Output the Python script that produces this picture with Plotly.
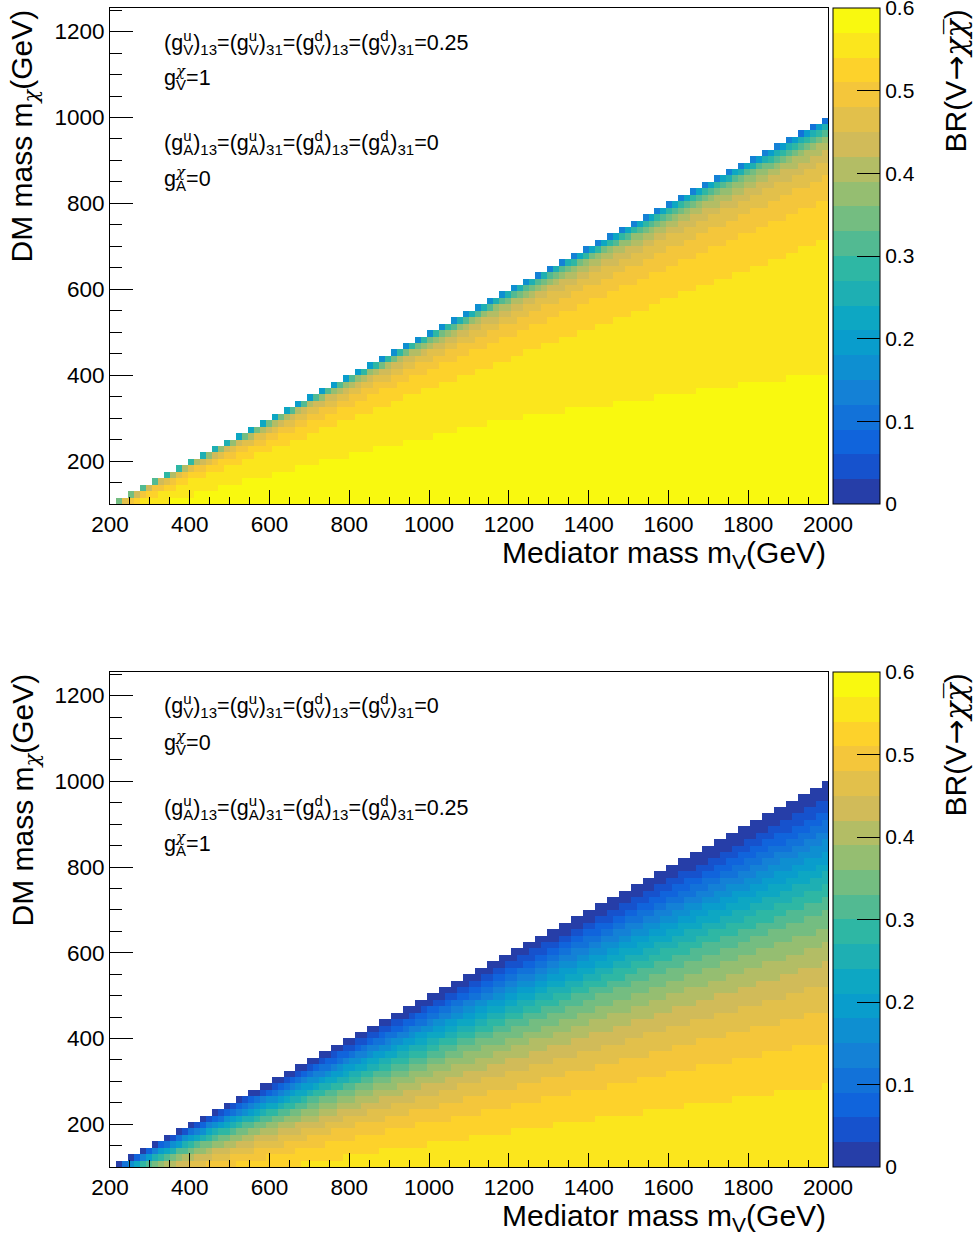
import numpy as np
import plotly.graph_objects as go

# ---------------- data ----------------
# BR(V -> chi chibar) read along a few mediator-mass columns, as a function of
# t = 2 m_chi / m_V (t = 1 is the kinematic limit)
mv_cols = [220, 350, 600, 1000, 1500, 2000]
t_grid = [0.0, 0.1, 0.2, 0.3, 0.4, 0.5, 0.6, 0.7, 0.75, 0.8, 0.85, 0.9,
          0.93, 0.95, 0.97, 0.98, 0.99, 0.995, 0.998, 1.0]

br_vector = [
    [0.5917, 0.5917, 0.5916, 0.5910, 0.5892, 0.5854, 0.5777, 0.5630, 0.5512, 0.5344, 0.5096, 0.4702, 0.4328, 0.3964, 0.3413, 0.2992, 0.2335, 0.1779, 0.1207, 0.0],
    [0.5855, 0.5855, 0.5853, 0.5847, 0.5830, 0.5791, 0.5714, 0.5567, 0.5448, 0.5280, 0.5032, 0.4638, 0.4265, 0.3903, 0.3300, 0.2850, 0.2200, 0.1650, 0.1100, 0.0],
    [0.5807, 0.5807, 0.5806, 0.5800, 0.5782, 0.5744, 0.5666, 0.5519, 0.5400, 0.5231, 0.4983, 0.4589, 0.4217, 0.3856, 0.3150, 0.2700, 0.2000, 0.1450, 0.0950, 0.0],
    [0.5774, 0.5774, 0.5772, 0.5766, 0.5749, 0.5710, 0.5633, 0.5485, 0.5366, 0.5197, 0.4949, 0.4555, 0.4184, 0.3824, 0.3100, 0.2650, 0.1950, 0.1400, 0.0920, 0.0],
    [0.5744, 0.5744, 0.5742, 0.5736, 0.5719, 0.5680, 0.5602, 0.5454, 0.5335, 0.5166, 0.4918, 0.4525, 0.4154, 0.3795, 0.3080, 0.2630, 0.1930, 0.1380, 0.0900, 0.0],
    [0.5727, 0.5727, 0.5726, 0.5720, 0.5702, 0.5664, 0.5586, 0.5438, 0.5318, 0.5150, 0.4901, 0.4508, 0.4138, 0.3779, 0.3070, 0.2620, 0.1920, 0.1370, 0.0900, 0.0],
]

br_axial = [
    [0.5917, 0.5881, 0.5769, 0.5571, 0.5274, 0.4849, 0.4260, 0.3455, 0.2955, 0.2384, 0.1748, 0.1072, 0.0671, 0.0423, 0.0204, 0.0113, 0.0041, 0.0014, 0.0004, 0.0],
    [0.5855, 0.5818, 0.5706, 0.5508, 0.5209, 0.4785, 0.4197, 0.3397, 0.2901, 0.2338, 0.1711, 0.1047, 0.0655, 0.0412, 0.0199, 0.0110, 0.0040, 0.0014, 0.0004, 0.0],
    [0.5807, 0.5770, 0.5657, 0.5459, 0.5160, 0.4736, 0.4149, 0.3353, 0.2861, 0.2303, 0.1684, 0.1029, 0.0644, 0.0405, 0.0195, 0.0108, 0.0039, 0.0014, 0.0004, 0.0],
    [0.5774, 0.5737, 0.5624, 0.5425, 0.5126, 0.4702, 0.4116, 0.3323, 0.2833, 0.2279, 0.1665, 0.1016, 0.0635, 0.0399, 0.0193, 0.0107, 0.0038, 0.0014, 0.0004, 0.0],
    [0.5744, 0.5707, 0.5594, 0.5395, 0.5096, 0.4671, 0.4086, 0.3295, 0.2809, 0.2257, 0.1648, 0.1005, 0.0628, 0.0395, 0.0190, 0.0105, 0.0038, 0.0013, 0.0003, 0.0],
    [0.5727, 0.5690, 0.5577, 0.5378, 0.5079, 0.4654, 0.4070, 0.3281, 0.2795, 0.2245, 0.1639, 0.0999, 0.0624, 0.0392, 0.0189, 0.0105, 0.0038, 0.0013, 0.0003, 0.0],
]

x_tick_vals = [200, 400, 600, 800, 1000, 1200, 1400, 1600, 1800, 2000]
y_tick_vals = [200, 400, 600, 800, 1000, 1200]
cbar_tick_vals = [0, 0.1, 0.2, 0.3, 0.4, 0.5, 0.6]
cbar_tick_text = ["0", "0.1", "0.2", "0.3", "0.4", "0.5", "0.6"]

# histogram binning
mv_lo, mv_hi, mv_bin = 200, 2000, 15
mchi_lo, mchi_hi, mchi_bin = 100, 1255, 15
z_lo, z_hi, n_levels = 0.0, 0.6, 20

# ---------------- build the 2D histograms ----------------
mv_centers = np.arange(mv_lo + mv_bin / 2, mv_hi, mv_bin)
mchi_centers = np.arange(mchi_lo + mchi_bin / 2, mchi_hi, mchi_bin)


def fill_hist(table):
    tab = np.array(table)
    z = np.full((len(mchi_centers), len(mv_centers)), np.nan)
    for i, mv in enumerate(mv_centers):
        col = np.array([np.interp(mv, mv_cols, tab[:, k]) for k in range(len(t_grid))])
        for j, mc in enumerate(mchi_centers):
            t = 2.0 * mc / mv
            if t < 1.0:
                z[j, i] = np.interp(t, t_grid, col)
    return z


z_vec = fill_hist(br_vector)
z_ax = fill_hist(br_axial)

# ---------------- ROOT kBird palette, 20 contour levels ----------------
stops = [0.0, 0.125, 0.25, 0.375, 0.5, 0.625, 0.75, 0.875, 1.0]
red = [0.2082, 0.0592, 0.0780, 0.0232, 0.1802, 0.5301, 0.8186, 0.9956, 0.9764]
green = [0.1664, 0.3599, 0.5041, 0.6419, 0.7178, 0.7492, 0.7328, 0.7862, 0.9832]
blue = [0.5293, 0.8684, 0.8385, 0.7914, 0.6425, 0.4662, 0.3499, 0.1968, 0.0539]
ncol = 255
palette = []
for g in range(1, len(stops)):
    n = int(np.floor(ncol * stops[g]) - np.floor(ncol * stops[g - 1]))
    for c in range(n):
        r = red[g - 1] + c * (red[g] - red[g - 1]) / n
        gg = green[g - 1] + c * (green[g] - green[g - 1]) / n
        b = blue[g - 1] + c * (blue[g] - blue[g - 1]) / n
        palette.append("rgb(%d,%d,%d)" % (round(r * 255), round(gg * 255), round(b * 255)))
band_colors = [palette[int((i + 0.99) * ncol / n_levels)] for i in range(n_levels)]
colorscale = []
for i, c in enumerate(band_colors):
    colorscale.append([i / n_levels, c])
    colorscale.append([(i + 1) / n_levels, c])

# ---------------- layout geometry ----------------
W, H = 974, 1239
FONT = "Liberation Sans, Arial, Helvetica, sans-serif"
CHI = '<span style="font-family:DejaVu Serif;font-style:italic">χ</span>'
ARROW = '<span style="font-family:DejaVu Sans">→</span>'
px_l, px_r = 110, 828
panels = [(8, 504), (672, 1167)]


def fx(p):
    return p / W


def fy(p):
    return 1 - p / H


fig = go.Figure()
fig.add_trace(go.Heatmap(x=mv_centers, y=mchi_centers, z=z_vec, coloraxis="coloraxis",
                         xaxis="x", yaxis="y", hoverongaps=False))
fig.add_trace(go.Heatmap(x=mv_centers, y=mchi_centers, z=z_ax, coloraxis="coloraxis2",
                         xaxis="x2", yaxis="y2", hoverongaps=False))


def cax(top, bot):
    return dict(
        colorscale=colorscale, cmin=z_lo, cmax=z_hi,
        colorbar=dict(
            x=fx(833), xanchor="left", xpad=0, ypad=0,
            y=fy(top), yanchor="top", len=(bot - top) / H, lenmode="fraction",
            thickness=47, thicknessmode="pixels",
            outlinewidth=1, outlinecolor="black",
            tickvals=cbar_tick_vals, ticktext=cbar_tick_text,
            ticks="inside", ticklen=23, tickwidth=1, tickcolor="black",
            ticklabeloverflow="allow",
            tickfont=dict(family=FONT, size=21, color="black"),
        ),
    )


def xax(anchor):
    return dict(
        domain=[fx(px_l), fx(px_r)], range=[mv_lo, mv_hi], anchor=anchor,
        automargin=False,
        tickvals=x_tick_vals, ticks="inside", ticklen=14, tickwidth=1, tickcolor="black",
        minor=dict(dtick=50, ticks="inside", ticklen=7, tickwidth=1, tickcolor="black"),
        showline=True, mirror=True, linecolor="black", linewidth=1,
        showgrid=False, zeroline=False,
        tickfont=dict(family=FONT, size=22.5, color="black"),
    )


def yax(anchor, top, bot):
    return dict(
        domain=[fy(bot), fy(top)], range=[mchi_lo, mchi_hi], anchor=anchor,
        automargin=False,
        tickvals=y_tick_vals, ticks="inside", ticklen=23, tickwidth=1, tickcolor="black",
        minor=dict(dtick=50, ticks="inside", ticklen=12, tickwidth=1, tickcolor="black"),
        showline=True, mirror=True, linecolor="black", linewidth=1,
        showgrid=False, zeroline=False,
        tickfont=dict(family=FONT, size=22.5, color="black"),
    )


def stack(sup, sub, shift="-0.556em"):
    return ('<sup><span style="letter-spacing:%s">%s</span></sup><sub>%s</sub>' % (shift, sup, sub))


def coupling_line(kind, val):
    return ("(g%s)<sub>13</sub>=(g%s)<sub>31</sub>=(g%s)<sub>13</sub>=(g%s)<sub>31</sub>=%s"
            % (stack("u", kind), stack("u", kind), stack("d", kind), stack("d", kind), val))


def chi_line(kind, val):
    return "g" + stack(CHI, kind, "-0.6em") + "=" + val


texts = [
    [coupling_line("V", "0.25"), chi_line("V", "1"), coupling_line("A", "0"), chi_line("A", "0")],
    [coupling_line("V", "0"), chi_line("V", "0"), coupling_line("A", "0.25"), chi_line("A", "1")],
]
text_rows = [42, 78, 143, 179]

annotations = []
for p, (top, bot) in enumerate(panels):
    off = top - panels[0][0]
    for k, txt in enumerate(texts[p]):
        annotations.append(dict(text=txt, xref="paper", yref="paper", x=fx(162), y=fy(text_rows[k] + off),
                                xanchor="left", yanchor="middle", showarrow=False,
                                font=dict(family=FONT, size=21.5, color="black")))
    annotations.append(dict(text="DM mass m<sub>" + CHI + "</sub>(GeV)", xref="paper", yref="paper",
                            x=fx(24), y=fy(top), xanchor="center", yanchor="top", textangle=-90,
                            showarrow=False, font=dict(family=FONT, size=30, color="black")))
    annotations.append(dict(text="Mediator mass m<sub>V</sub>(GeV)", xref="paper", yref="paper",
                            x=fx(px_r), y=fy(bot + 50), xanchor="right", yanchor="middle",
                            showarrow=False, font=dict(family=FONT, size=30, color="black")))
    annotations.append(dict(text="BR(V" + ARROW + CHI + CHI.replace("χ", "χ\u0305") + ")",
                            xref="paper", yref="paper",
                            x=fx(955), y=fy(top), xanchor="center", yanchor="top", textangle=-90,
                            showarrow=False, font=dict(family=FONT, size=30, color="black")))

fig.update_layout(
    template="none",
    width=W, height=H, autosize=False,
    margin=dict(l=0, r=0, t=0, b=0, pad=0),
    paper_bgcolor="white", plot_bgcolor="white",
    xaxis=xax("y"), yaxis=yax("x", *panels[0]),
    xaxis2=xax("y2"), yaxis2=yax("x2", *panels[1]),
    coloraxis=cax(*panels[0]), coloraxis2=cax(*panels[1]),
    annotations=annotations,
    showlegend=False,
)

fig.write_html("out.html")
